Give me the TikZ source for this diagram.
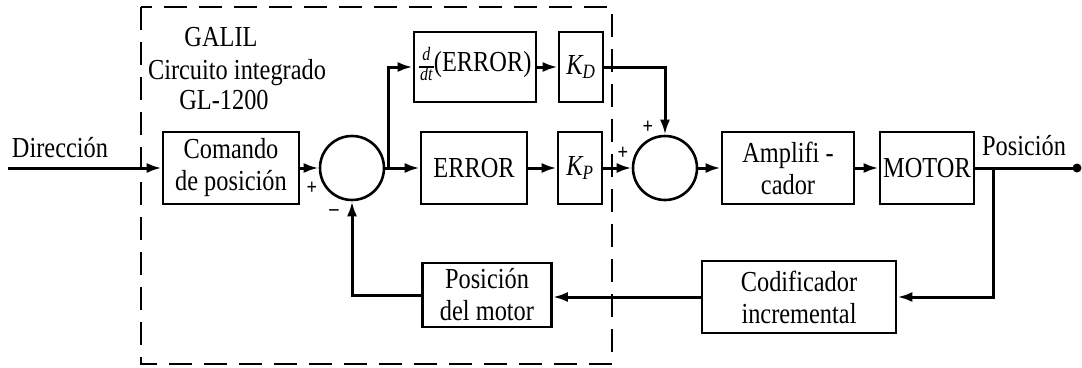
\documentclass[tikz,border=0pt]{standalone}
\usepackage{fontspec}
\setmainfont{Liberation Serif}[FakeStretch=0.84]
\usetikzlibrary{arrows.meta}
\newcommand{\ddtfrac}{{\fontsize{19}{19}\selectfont\itshape\setlength{\arrayrulewidth}{1.5pt}\setlength{\tabcolsep}{1.5pt}\renewcommand{\arraystretch}{0.95}\begin{tabular}{c}d\\\hline dt\end{tabular}}}
\begin{document}
\begin{tikzpicture}[x=1pt,y=-1pt,
  txt/.style={font=\fontsize{29}{32}\selectfont},
  blk/.style={draw, line width=2.6pt, inner sep=0pt, align=center, txt},
  sum/.style={draw, circle, line width=2.6pt, minimum size=64pt, inner sep=0pt},
  ln/.style={line width=3pt},
  arr/.style={ln, -{Latex[length=15pt,width=10pt]}},
  lbl/.style={txt, inner sep=0pt, align=center},
  sgn/.style={font=\fontsize{22}{22}\selectfont\bfseries, inner sep=0pt},
  dashbox/.style={line width=2.4pt, dash pattern=on 23pt off 12pt}
]
\useasboundingbox (0,0) rectangle (1082,367);

% dashed GALIL boundary
\draw[dashbox] (141,7) rectangle (612,364);

% texts
\node[lbl] (dir) at (60,148) {Dirección};
\node[lbl] (galil) at (221,37) {GALIL};
\node[lbl] (circ) at (237,73) {Circuito integrado};
\node[lbl] (gl) at (224,100) {GL-1200};
\node[lbl] (pos) at (1024,146) {Posición};

% blocks
\node[blk, minimum width=136pt, minimum height=72pt] (cmd) at (231,168) {Comando\\de posición};
\node[sum] (s1) at (352,168) {};
\node[blk, minimum width=122pt, minimum height=70pt] (dd) at (475,67) {\ddtfrac(ERROR)};
\node[blk, minimum width=44pt, minimum height=70pt] (kd) at (581,67) {\itshape K\textsubscript{D}};
\node[blk, minimum width=106pt, minimum height=72pt] (err) at (474,168) {ERROR};
\node[blk, minimum width=44pt, minimum height=72pt] (kp) at (580,168) {\itshape K\textsubscript{P}};
\node[sum] (s2) at (665,168) {};
\node[blk, minimum width=132pt, minimum height=72pt] (amp) at (788,168) {Amplifi -\\cador};
\node[blk, minimum width=94pt, minimum height=72pt] (mot) at (927,168) {MOTOR};
\node[blk, minimum width=194pt, minimum height=72pt] (cod) at (799,297) {Codificador\\incremental};
\node[blk, minimum width=129pt, minimum height=64pt] (pm) at (487,295) {Posición\\del motor};

% signs
\node[sgn] (p1) at (312,188) {+};
\node[sgn] (m1) at (334,213) {\textendash};
\node[sgn] (p2) at (648,127) {+};
\node[sgn] (p3) at (623,153) {+};

% coordinates
\coordinate (din) at (8,168);
\coordinate (br1) at (388,168);
\coordinate (br2) at (993,168);
\coordinate (out) at (1077,168);

% connectors
\draw[arr] (din) -- (cmd.west);
\draw[arr] (cmd.east) -- (s1.west);
\draw[arr] (s1.east) -- (err.west);
\draw[arr] (br1) |- (dd.west);
\draw[arr] (dd.east) -- (kd.west);
\draw[arr] (err.east) -- (kp.west);
\draw[arr] (kp.east) -- (s2.west);
\draw[arr] (kd.east) -| (s2.north);
\draw[arr] (s2.east) -- (amp.west);
\draw[arr] (amp.east) -- (mot.west);
\draw[ln] (mot.east) -- (out);
\fill (out) circle (4.5pt);
\draw[arr] (br2) |- (cod.east);
\draw[arr] (cod.west) -- (cod.west -| pm.east);
\draw[arr] (pm.west) -| (s1.south);
\end{tikzpicture}
\end{document}
